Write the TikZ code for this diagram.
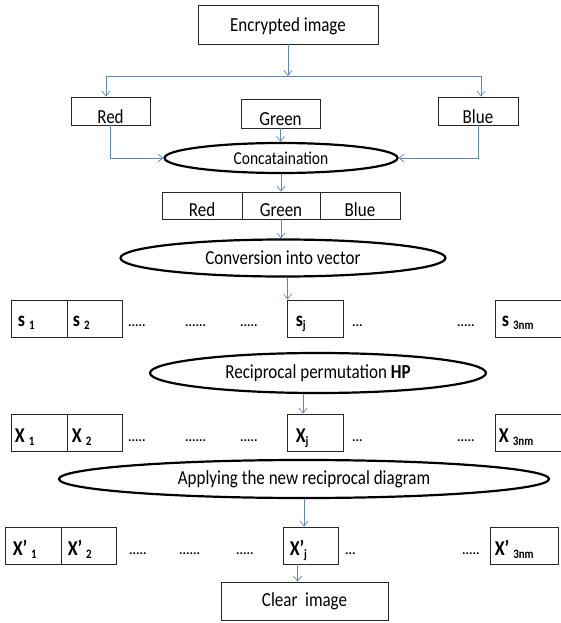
\documentclass[tikz,border=0pt]{standalone}
\usepackage{fontspec}
\setmainfont{Carlito}
\usetikzlibrary{shapes.geometric,arrows.meta,calc}
\definecolor{arr}{HTML}{5B86BE}
\newcommand{\tall}[1]{\scalebox{1}[1.17]{#1}}
\tikzset{
  x=1pt, y=-1pt,
  box/.style={draw=black!85, line width=0.8pt, rectangle, inner sep=0pt,
              font=\fontsize{17}{17}\selectfont},
  oval/.style={draw=black, line width=2.2pt, ellipse, inner sep=0pt,
               font=\fontsize{17}{17}\selectfont},
  flow/.style={draw=arr, line width=0.7pt, -{Straight Barb[length=5pt,width=8pt]}},
  link/.style={draw=arr, line width=0.7pt},
  cell/.style={draw=black!85, line width=0.8pt, rectangle, inner sep=0pt},
  lbl/.style={font=\fontsize{18}{18}\selectfont\bfseries, inner sep=0pt, anchor=base west},
  dotsx/.style={font=\fontsize{13}{13}\selectfont\bfseries, inner sep=0pt, anchor=base west},
}
\newcommand{\sbx}[1]{\raisebox{-3pt}{\fontsize{11}{11}\selectfont\bfseries #1}}
\begin{document}
\begin{tikzpicture}
\useasboundingbox (0,0) rectangle (561,623);

% top
\node[box, minimum width=180pt, text height=27pt, text depth=12pt] (enc) at (288,24.5) {\tall{Encrypted image}};
\coordinate (split) at (288,76);
\coordinate (hl) at (106,76);
\coordinate (hr) at (481,76);

\node[box, minimum width=79pt, text height=26pt, text depth=2pt] (red) at (110.5,111) {\tall{Red}};
\node[box, minimum width=79pt, text height=26pt, text depth=3pt] (green) at (280.5,113.5) {\tall{Green}};
\node[box, minimum width=80pt, text height=26pt, text depth=2pt] (blue) at (478,111) {\tall{Blue}};

\node[oval, minimum width=233pt, minimum height=30pt] (concat) at (281,158) {\fontsize{15.5}{15.5}\selectfont\tall{Concataination}};

\node[box, minimum width=80pt, text height=24pt, text depth=3pt] (catR) at (202,205.5) {\tall{Red}};
\node[box, minimum width=78pt, text height=24pt, text depth=3pt] (catG) at (281,205.5) {\tall{Green}};
\node[box, minimum width=80pt, text height=24pt, text depth=3pt] (catB) at (360,205.5) {\tall{Blue}};

\node[oval, minimum width=325pt, minimum height=37pt] (conv) at (283,258) {\tall{Conversion into vector}};

% s row
\node[cell, minimum width=56pt, minimum height=37pt] (s1) at (39,318.5) {};
\node[cell, minimum width=55pt, minimum height=37pt] (s2) at (94.5,318.5) {};
\node[cell, minimum width=56pt, minimum height=37pt] (sj) at (315,318.5) {};
\node[cell, minimum width=72pt, minimum height=37pt] (sn) at (531,318.5) {};
\node[lbl] (s1t) at ($(s1.south west)+(7,-11)$) {\tall{s \sbx{1}}};
\node[lbl] (s2t) at ($(s2.south west)+(6,-11)$) {\tall{s \sbx{2}}};
\node[lbl] (sjt) at ($(sj.south west)+(9,-11)$) {\tall{s\sbx{j}}};
\node[lbl] (snt) at ($(sn.south west)+(7,-11)$) {\tall{s \sbx{3nm}}};
\node[dotsx] (sd1) at (128,326) {.....};
\node[dotsx] (sd2) at (185,326) {......};
\node[dotsx] (sd3) at (240,326) {.....};
\node[dotsx] (sd4) at (352,326) {...};
\node[dotsx] (sd5) at (457,326) {.....};

\node[oval, minimum width=336pt, minimum height=40pt] (recip) at (318,373) {\tall{Reciprocal permutation \textbf{HP}}};

% X row
\node[cell, minimum width=56pt, minimum height=37pt] (x1) at (39,432.5) {};
\node[cell, minimum width=55pt, minimum height=37pt] (x2) at (94.5,432.5) {};
\node[cell, minimum width=56pt, minimum height=37pt] (xj) at (315,432.5) {};
\node[cell, minimum width=72pt, minimum height=37pt] (xn) at (531,432.5) {};
\node[lbl] (x1t) at ($(x1.south west)+(4,-9)$) {\tall{X \sbx{1}}};
\node[lbl] (x2t) at ($(x2.south west)+(5,-9)$) {\tall{X \sbx{2}}};
\node[lbl] (xjt) at ($(xj.south west)+(9,-9)$) {\tall{X\sbx{j}}};
\node[lbl] (xnt) at ($(xn.south west)+(4,-9)$) {\tall{X \sbx{3nm}}};
\node[dotsx] (xd1) at (128,441) {.....};
\node[dotsx] (xd2) at (185,441) {......};
\node[dotsx] (xd3) at (240,441) {.....};
\node[dotsx] (xd4) at (352,441) {...};
\node[dotsx] (xd5) at (457,441) {.....};

\node[oval, minimum width=490pt, minimum height=38pt] (apply) at (304,479) {\tall{Applying the new reciprocal diagram}};

% X' row
\node[cell, minimum width=56pt, minimum height=37pt] (p1) at (33,545.5) {};
\node[cell, minimum width=55pt, minimum height=37pt] (p2) at (88.5,545.5) {};
\node[cell, minimum width=55pt, minimum height=37pt] (pj) at (310.5,545.5) {};
\node[cell, minimum width=68pt, minimum height=37pt] (pn) at (524,545.5) {};
\node[lbl] (p1t) at ($(p1.south west)+(8,-9)$) {\tall{X’ \sbx{1}}};
\node[lbl] (p2t) at ($(p2.south west)+(7,-9)$) {\tall{X’ \sbx{2}}};
\node[lbl] (pjt) at ($(pj.south west)+(7,-9)$) {\tall{X’\sbx{j}}};
\node[lbl] (pnt) at ($(pn.south west)+(5,-9)$) {\tall{X’ \sbx{3nm}}};
\node[dotsx] (pd1) at (129,554) {.....};
\node[dotsx] (pd2) at (179,554) {......};
\node[dotsx] (pd3) at (236,554) {.....};
\node[dotsx] (pd4) at (345,554) {...};
\node[dotsx] (pd5) at (462,554) {.....};

\node[box, minimum width=167pt, minimum height=38pt] (clear) at (304.5,601) {\tall{Clear\ \ image}};

% connectors
\draw[flow] (enc.south) -- (split);
\draw[link] (hl) -- (hr);
\draw[flow] (hl) -- (hl |- red.north);
\draw[flow] (hr) -- (hr |- blue.north);
\draw[flow] (red.south) |- (concat.west);
\draw[flow] (green.south) -- (green.south |- concat.north);
\draw[flow] (blue.south) |- (concat.east);
\draw[flow] (concat.south) -- (catG.north);
\draw[flow] (catG.south) -- (catG.south |- conv.north);
\draw[flow] ([xshift=1pt]conv.south -| sj.north west) -- ([xshift=1pt]sj.north west);
\draw[flow] ([xshift=-15pt]recip.south) -- ([xshift=-15pt]recip.south |- xj.north);
\draw[flow] (apply.south) -- (apply.south |- pj.north);
\draw[flow] ([xshift=-13pt]pj.south) -- ([xshift=-13pt]pj.south |- clear.north);
\end{tikzpicture}
\end{document}
